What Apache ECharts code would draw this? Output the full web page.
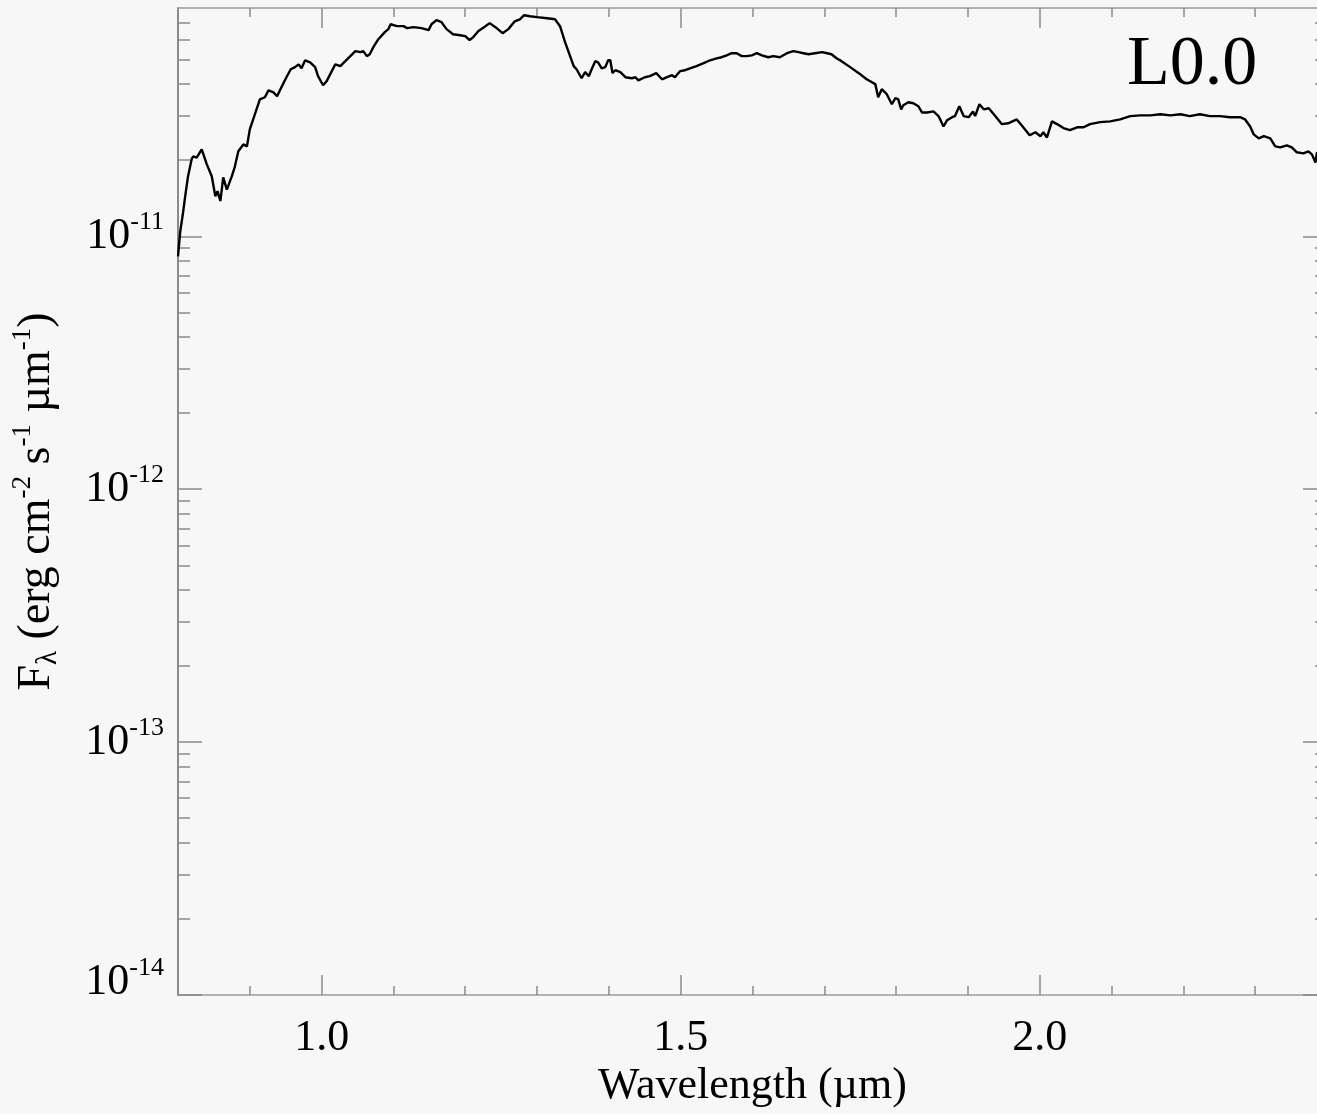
<!DOCTYPE html>
<html>
<head>
<meta charset="utf-8">
<script src="https://cdn.jsdelivr.net/npm/echarts@6/dist/echarts.min.js"></script>
<style>
  html, body { margin: 0; padding: 0; background: #f7f7f7; overflow: hidden; }
  #chart { width: 1340px; height: 1114px; }
</style>
</head>
<body>
<div id="chart"></div>
<script>
// Wavelength grid of the spectrum (micron)
const wavelength = [
  0.800,0.803,0.807,0.810,0.814,0.819,0.821,0.826,0.833,0.840,
  0.847,0.852,0.855,0.859,0.863,0.868,0.875,0.879,0.884,0.891,
  0.896,0.900,0.907,0.914,0.921,0.926,0.933,0.938,0.944,0.951,
  0.957,0.963,0.968,0.972,0.977,0.984,0.991,0.995,1.002,1.007,
  1.012,1.019,1.026,1.033,1.040,1.047,1.054,1.058,1.063,1.067,
  1.072,1.079,1.088,1.093,1.096,1.105,1.114,1.119,1.128,1.139,
  1.149,1.153,1.160,1.167,1.174,1.183,1.193,1.200,1.206,1.211,
  1.218,1.228,1.234,1.242,1.252,1.260,1.269,1.276,1.282,1.290,
  1.300,1.314,1.325,1.332,1.339,1.344,1.351,1.355,1.362,1.367,
  1.372,1.376,1.381,1.385,1.390,1.395,1.399,1.402,1.405,1.409,
  1.416,1.423,1.432,1.437,1.441,1.450,1.457,1.466,1.474,1.481,
  1.488,1.492,1.499,1.506,1.513,1.522,1.532,1.541,1.550,1.557,
  1.564,1.571,1.578,1.585,1.592,1.599,1.606,1.613,1.622,1.629,
  1.638,1.648,1.657,1.664,1.671,1.678,1.687,1.697,1.704,1.710,
  1.717,1.724,1.736,1.748,1.759,1.771,1.775,1.780,1.787,1.794,
  1.799,1.803,1.807,1.810,1.817,1.824,1.831,1.836,1.843,1.852,
  1.859,1.866,1.871,1.878,1.882,1.888,1.894,1.901,1.907,1.910,
  1.916,1.922,1.929,1.938,1.947,1.956,1.968,1.977,1.986,1.994,
  2.001,2.005,2.010,2.017,2.024,2.033,2.042,2.052,2.061,2.070,
  2.084,2.098,2.112,2.126,2.140,2.154,2.168,2.182,2.196,2.209,
  2.223,2.237,2.251,2.265,2.279,2.286,2.293,2.298,2.305,2.312,
  2.321,2.328,2.335,2.344,2.351,2.358,2.367,2.374,2.379,2.384,
  2.386,2.393,2.400
];

// F_lambda in units of FLUX_UNIT (erg cm^-2 s^-1 um^-1)
const FLUX_UNIT = 1e-11;
const flux = [
  0.834,1.04,1.24,1.44,1.73,2.02,2.07,2.05,2.21,1.93,
  1.73,1.44,1.51,1.38,1.71,1.53,1.73,1.88,2.17,2.31,
  2.27,2.65,3.04,3.48,3.55,3.78,3.71,3.58,3.89,4.26,
  4.58,4.67,4.79,4.62,4.97,4.88,4.67,4.30,3.96,4.11,
  4.38,4.79,4.71,4.93,5.16,5.40,5.35,5.40,5.16,5.25,
  5.60,6.02,6.42,6.60,6.90,6.78,6.78,6.66,6.72,6.66,
  6.54,6.90,7.16,7.03,6.60,6.30,6.24,6.19,5.97,6.13,
  6.48,6.78,6.97,6.72,6.36,6.60,7.09,7.22,7.49,7.42,
  7.36,7.29,7.22,6.78,5.86,5.35,4.71,4.58,4.22,4.46,
  4.30,4.58,4.93,4.88,4.62,4.67,4.97,4.97,4.42,4.54,
  4.46,4.26,4.22,4.26,4.14,4.26,4.30,4.42,4.18,4.26,
  4.34,4.26,4.50,4.54,4.62,4.71,4.84,4.97,5.06,5.11,
  5.20,5.30,5.30,5.16,5.16,5.20,5.30,5.20,5.11,5.16,
  5.11,5.30,5.40,5.35,5.30,5.25,5.30,5.35,5.30,5.25,
  5.06,4.93,4.67,4.42,4.18,4.00,3.55,3.82,3.65,3.33,
  3.52,3.48,3.18,3.30,3.39,3.36,3.27,3.09,3.09,3.12,
  2.99,2.72,2.88,2.96,2.99,3.27,2.99,2.96,3.12,2.99,
  3.33,3.18,3.21,2.99,2.78,2.80,2.90,2.70,2.51,2.58,
  2.49,2.58,2.46,2.85,2.78,2.68,2.63,2.70,2.70,2.78,
  2.83,2.85,2.90,2.99,3.01,3.01,3.04,3.01,3.04,2.99,
  3.04,2.99,2.99,2.96,2.96,2.90,2.72,2.53,2.44,2.49,
  2.44,2.27,2.25,2.29,2.25,2.15,2.13,2.17,2.11,1.96,
  2.15,2.07,2.05
];

// Axis ranges and tick positions
const xRange = [0.8, 2.4];
const xMajorTicks = [1.0, 1.5, 2.0];
const xMinorTicks = [0.9, 1.1, 1.2, 1.3, 1.4, 1.6, 1.7, 1.8, 1.9, 2.1, 2.2, 2.3];
const yRange = [1e-14, 8e-11];
const yDecades = [1e-14, 1e-13, 1e-12, 1e-11];
const yMinorSteps = [2, 3, 4, 5, 6, 7, 8, 9];
const spectralType = 'L0.0';

const yMinorTicks = [];
yDecades.forEach(d => yMinorSteps.forEach(k => {
  const v = k * d;
  if (v < yRange[1] * 0.999) yMinorTicks.push(v);
}));

const FONT = '"Liberation Serif", "Times New Roman", serif';
const FRAME = '#9a9a9a';
const TICK = '#8a8a8a';

const seriesData = wavelength.map((w, i) => [w, flux[i] * FLUX_UNIT]);

function xAxisOf(position, ticks, len, withLabels) {
  const ax = {
    type: 'value', position: position, min: xRange[0], max: xRange[1],
    splitLine: { show: false },
    axisLine: { show: withLabels !== null, lineStyle: { color: FRAME, width: 1.5 } },
    axisTick: { show: true, inside: true, length: len, customValues: ticks,
                lineStyle: { color: TICK, width: 1.5 } },
    axisLabel: { show: false }
  };
  if (withLabels) {
    ax.axisLabel = {
      show: true, customValues: xMajorTicks, margin: 21,
      fontFamily: FONT, fontSize: 44, color: '#000',
      formatter: v => v.toFixed(1)
    };
    ax.name = 'Wavelength (\u00b5m)';
    ax.nameLocation = 'middle';
    ax.nameGap = 68;
    ax.nameTextStyle = { fontFamily: FONT, fontSize: 44, color: '#000' };
  }
  return ax;
}

// Power-of-ten label; the lowest one is lifted clear of the corner
function powerLabel(v) {
  const exp = Math.round(Math.log10(v));
  const text = '{b|10}{s|' + exp + '}';
  return v <= yRange[0] * 1.001 ? text + '\n{gap| }' : text;
}

function yAxisOf(position, ticks, len, withLabels, lineColor) {
  const ax = {
    type: 'log', logBase: 10, position: position, min: yRange[0], max: yRange[1],
    splitLine: { show: false },
    axisLine: { show: !!lineColor, lineStyle: { color: lineColor || FRAME, width: 1.5 } },
    axisTick: { show: true, inside: true, length: len, customValues: ticks,
                lineStyle: { color: TICK, width: 1.5 } },
    axisLabel: { show: false }
  };
  if (withLabels) {
    ax.axisLabel = {
      show: true, customValues: yDecades, margin: 14, color: '#000',
      formatter: powerLabel,
      rich: {
        b: { fontFamily: FONT, fontSize: 44, lineHeight: 54, color: '#000' },
        s: { fontFamily: FONT, fontSize: 26, verticalAlign: 'top', color: '#000' },
        gap: { fontFamily: FONT, fontSize: 10, lineHeight: 26 }
      }
    };
    ax.name = '{t|F}{sub|\u03bb}{t| (erg cm}{sup|-2}{t| s}{sup|-1}{t| \u00b5m}{sup|-1}{t|)}';
    ax.nameLocation = 'middle';
    ax.nameRotate = 90;
    ax.nameGap = 113;
    ax.nameTextStyle = {
      color: '#000',
      rich: {
        t: { fontFamily: FONT, fontSize: 46, lineHeight: 56, color: '#000' },
        sup: { fontFamily: FONT, fontSize: 27, verticalAlign: 'top', color: '#000' },
        sub: { fontFamily: FONT, fontSize: 29, verticalAlign: 'bottom', padding: [0, 0, 2, 0], color: '#000' }
      }
    };
  }
  return ax;
}

const chart = echarts.init(document.getElementById('chart'), null, { renderer: 'canvas' });
chart.setOption({
  backgroundColor: '#f7f7f7',
  animation: false,
  grid: { left: 178, right: 13, top: 8, bottom: 119, containLabel: false },
  xAxis: [
    xAxisOf('bottom', xMajorTicks, 20, true),
    xAxisOf('bottom', xMinorTicks, 9, null),
    xAxisOf('top', xMajorTicks, 20, false),
    xAxisOf('top', xMinorTicks, 9, null)
  ],
  yAxis: [
    yAxisOf('left', yDecades, 24, true, '#666'),
    yAxisOf('left', yMinorTicks, 12, false, null),
    yAxisOf('right', yDecades, 24, false, FRAME),
    yAxisOf('right', yMinorTicks, 12, false, null)
  ],
  graphic: [{
    type: 'text', x: 1127, y: 66, z: 10,
    style: { text: spectralType, font: '70px ' + FONT, fill: '#000',
             align: 'left', verticalAlign: 'middle' }
  }],
  series: [{
    type: 'line', xAxisIndex: 0, yAxisIndex: 0,
    data: seriesData, showSymbol: false, clip: true,
    lineStyle: { color: '#000', width: 2.4 }
  }]
});
</script>
</body>
</html>
